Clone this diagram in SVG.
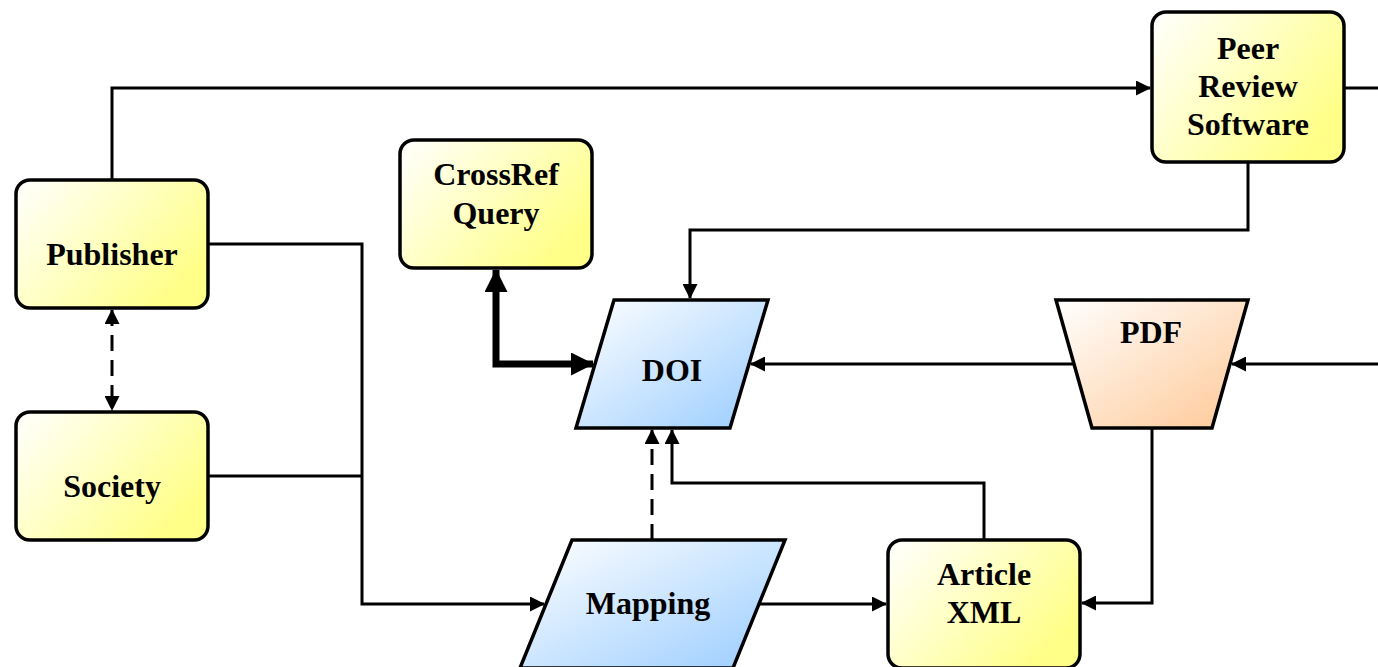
<svg xmlns="http://www.w3.org/2000/svg" width="1378" height="667" viewBox="0 0 1378 667">
<defs>
<linearGradient id="gy" x1="0" y1="0" x2="1" y2="0.6"><stop offset="0" stop-color="#ffffff"/><stop offset="1" stop-color="#ffff88"/></linearGradient>
<linearGradient id="gb" x1="0" y1="0" x2="1" y2="1"><stop offset="0" stop-color="#ffffff"/><stop offset="1" stop-color="#99ccff"/></linearGradient>
<linearGradient id="go" x1="0" y1="0" x2="1" y2="1"><stop offset="0" stop-color="#ffffff"/><stop offset="1" stop-color="#ffc895"/></linearGradient>
<marker id="ah" markerUnits="userSpaceOnUse" viewBox="0 0 15 15" refX="14" refY="7.5" markerWidth="15" markerHeight="15" orient="auto"><path d="M0,0 L15,7.5 L0,15 z" fill="#000"/></marker>
<marker id="ahs" markerUnits="userSpaceOnUse" viewBox="0 0 15 15" refX="14" refY="7.5" markerWidth="15" markerHeight="15" orient="auto-start-reverse"><path d="M0,0 L15,7.5 L0,15 z" fill="#000"/></marker>
<marker id="aht" markerUnits="userSpaceOnUse" viewBox="0 0 23 23" refX="22" refY="11.5" markerWidth="23" markerHeight="23" orient="auto-start-reverse"><path d="M0,0 L23,11.5 L0,23 z" fill="#000"/></marker>
</defs>
<style>
.box{stroke:#000;stroke-width:3.5}
.t{font-family:"Liberation Serif","Times New Roman",serif;font-weight:bold;font-size:32px;text-anchor:middle;fill:#000}
.c{fill:none;stroke:#000;stroke-width:3}
.d{stroke-dasharray:16 9}
</style>
<g id="connectors">
<path class="c" d="M112,180 V88 H1150" marker-end="url(#ah)"/>
<path class="c" d="M1344,88 H1380"/>
<path class="c" d="M1248,162 V230 H690 V298" marker-end="url(#ah)"/>
<path class="c" d="M208,244 H362 V604 H544" marker-end="url(#ah)"/>
<path class="c" d="M208,476 H362"/>
<path class="c d" d="M112,310 V410" marker-start="url(#ahs)" marker-end="url(#ahs)"/>
<path fill="none" stroke="#000" stroke-width="7" d="M496,270 V364 H593" marker-start="url(#aht)" marker-end="url(#aht)"/>
<path class="c" d="M1074,364 H751" marker-end="url(#ah)"/>
<path class="c" d="M1380,364 H1232" marker-end="url(#ah)"/>
<path class="c" d="M1152,428 V603 H1082" marker-end="url(#ah)"/>
<path class="c" d="M759,604 H886" marker-end="url(#ah)"/>
<path class="c" d="M984,540 V483 H672 V430" marker-end="url(#ah)"/>
<path class="c d" d="M652,540 V430" marker-end="url(#ah)"/>
</g>
<g id="publisher"><rect class="box" x="16" y="180" width="192" height="128" rx="14" fill="url(#gy)"/><text class="t" x="112" y="265">Publisher</text></g>
<g id="society"><rect class="box" x="16" y="412" width="192" height="128" rx="14" fill="url(#gy)"/><text class="t" x="112" y="497">Society</text></g>
<g id="peer-review"><rect class="box" x="1152" y="12" width="192" height="150" rx="14" fill="url(#gy)"/><text class="t" x="1248" y="59">Peer</text><text class="t" x="1248" y="97">Review</text><text class="t" x="1248" y="135">Software</text></g>
<g id="crossref"><rect class="box" x="400" y="140" width="192" height="128" rx="14" fill="url(#gy)"/><text class="t" x="496" y="185">CrossRef</text><text class="t" x="496" y="224">Query</text></g>
<g id="article-xml"><rect class="box" x="888" y="540" width="192" height="128" rx="14" fill="url(#gy)"/><text class="t" x="984" y="585">Article</text><text class="t" x="984" y="623">XML</text></g>
<g id="doi"><polygon class="box" points="614,300 768,300 730,428 576,428" fill="url(#gb)"/><text class="t" x="672" y="381">DOI</text></g>
<g id="mapping"><polygon class="box" points="572,540 785,540 733,668 520,668" fill="url(#gb)"/><text class="t" x="648" y="614">Mapping</text></g>
<g id="pdf"><polygon class="box" points="1056,300 1248,300 1212,428 1092,428" fill="url(#go)"/><text class="t" x="1151" y="343">PDF</text></g>
</svg>
